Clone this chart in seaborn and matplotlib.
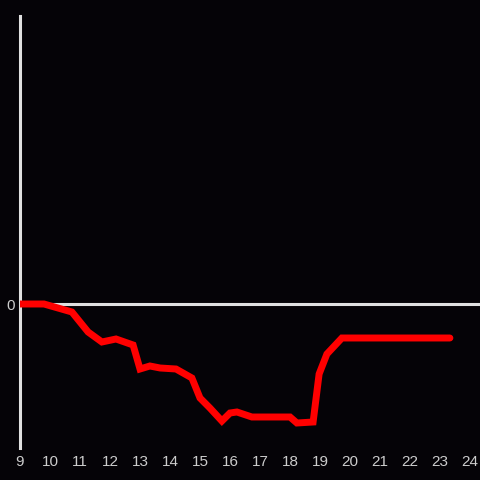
import matplotlib
matplotlib.use("Agg")
import matplotlib.pyplot as plt
import seaborn as sns
import pandas as pd

# data (hour of day vs. change)
hours = [9.0, 9.8, 10.73, 11.27, 11.73, 12.2, 12.77, 13.0, 13.33, 13.67, 14.2,
         14.73, 15.0, 15.33, 15.73, 16.0, 16.23, 16.73, 18.0, 18.23, 18.77,
         18.97, 19.23, 19.73, 23.33]
change = [0.0, 0.0, -0.8, -2.8, -3.8, -3.5, -4.1, -6.5, -6.2, -6.4, -6.5,
          -7.4, -9.4, -10.4, -11.7, -10.9, -10.8, -11.3, -11.3, -11.9, -11.8,
          -7.0, -5.0, -3.4, -3.4]
xticks = list(range(9, 25))

bg = "#050307"
fg = "#e0e0e0"

sns.set_style("dark")
plt.rcParams["font.family"] = ["Liberation Sans", "DejaVu Sans"]

df = pd.DataFrame({"hour": hours, "change": change})

fig = plt.figure(figsize=(4.8, 4.8), dpi=100, facecolor=bg)
ax = fig.add_axes([20 / 480, 32 / 480, 460 / 480, 432 / 480])
ax.set_facecolor(bg)

# zero line
ax.axhline(0, color=fg, lw=2.2, zorder=1)

sns.lineplot(data=df, x="hour", y="change", ax=ax, color="#ff0000",
             lw=5, zorder=3, solid_joinstyle="miter")

ax.set_xlim(9, 24.333)
ax.set_ylim(-14.4, 28.8)
ax.set_xticks(xticks)
ax.set_xticklabels([str(t) for t in xticks])
ax.set_yticks([0])
ax.set_yticklabels(["0"])
ax.tick_params(axis="both", length=0, colors="#cccccc", labelsize=11)
ax.tick_params(axis="x", pad=5)
ax.tick_params(axis="y", pad=4)
ax.set_xlabel("")
ax.set_ylabel("")
ax.grid(False)

for side in ["top", "right", "bottom"]:
    ax.spines[side].set_visible(False)
ax.spines["left"].set_color(fg)
ax.spines["left"].set_linewidth(2.2)
ax.spines["left"].set_zorder(2)

fig.savefig("out.png", dpi=100, facecolor=bg)
